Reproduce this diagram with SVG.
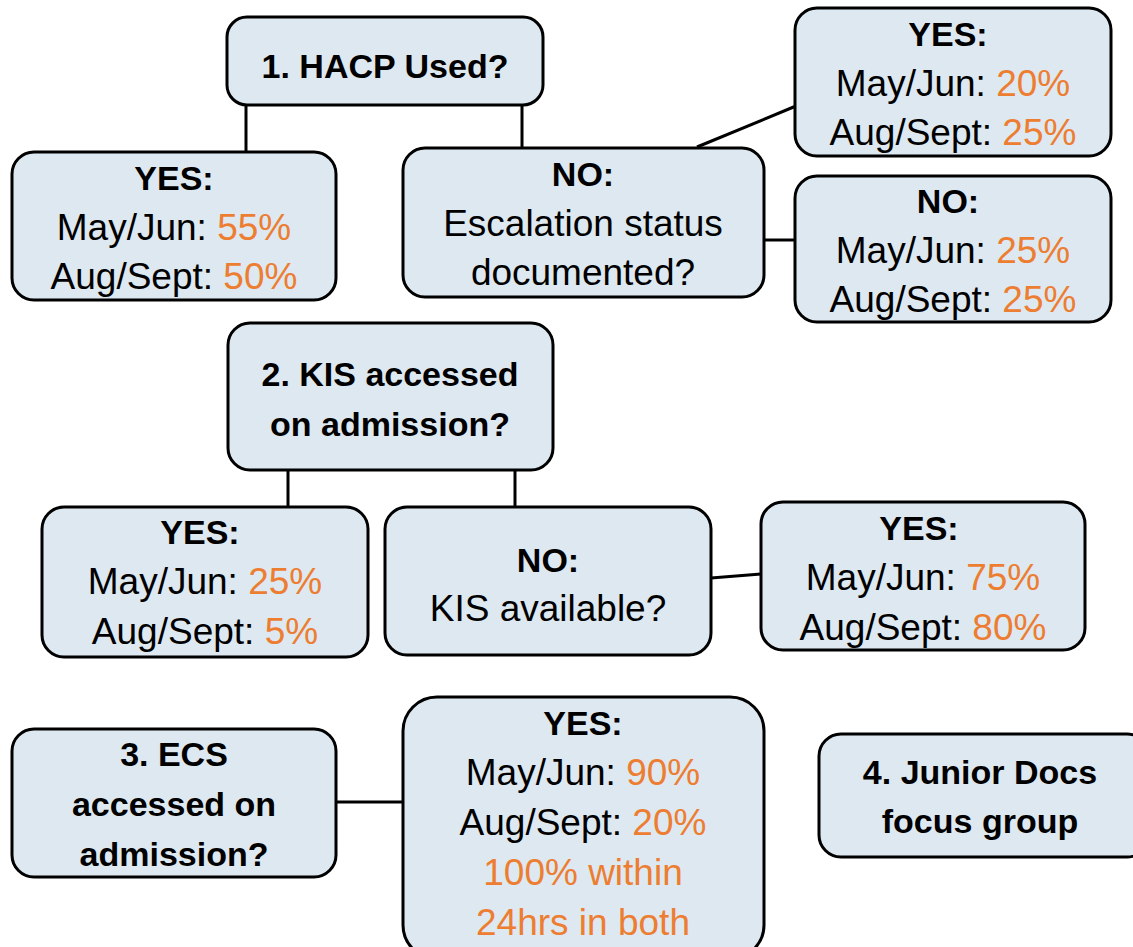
<svg xmlns="http://www.w3.org/2000/svg" width="1133" height="947" viewBox="0 0 1133 947">
<style>
.box{fill:#dde8f0;stroke:#000;stroke-width:3}
.t{font-family:"Liberation Sans",Arial,sans-serif;font-size:37px;fill:#000;text-anchor:middle}
.b{font-weight:bold;font-size:34px}
.o{fill:#ed7d31}
.c{stroke:#000;stroke-width:3;fill:none}
</style>
<rect width="1133" height="947" fill="#fff"/>
<g id="connectors">
<line class="c" x1="246" y1="105" x2="246" y2="152"/>
<line class="c" x1="522" y1="105" x2="522" y2="148"/>
<line class="c" x1="697" y1="147" x2="796" y2="106"/>
<line class="c" x1="764" y1="240" x2="795" y2="240"/>
<line class="c" x1="288" y1="470" x2="288" y2="507"/>
<line class="c" x1="515" y1="470" x2="515" y2="507"/>
<line class="c" x1="711" y1="578" x2="761" y2="574"/>
<line class="c" x1="336" y1="802" x2="403" y2="802"/>
</g>
<g id="n1">
<rect class="box" x="227" y="17" width="316" height="88" rx="20"/>
<text class="t b" x="385" y="78">1. HACP Used?</text>
</g>
<g id="n1yes">
<rect class="box" x="12" y="152" width="324" height="148" rx="22"/>
<text class="t b" x="174" y="190">YES:</text>
<text class="t" x="174" y="240">May/Jun: <tspan class="o">55%</tspan></text>
<text class="t" x="174" y="289">Aug/Sept: <tspan class="o">50%</tspan></text>
</g>
<g id="n1no">
<rect class="box" x="403" y="148" width="361" height="149" rx="22"/>
<text class="t b" x="583" y="186">NO:</text>
<text class="t" x="583" y="236">Escalation status</text>
<text class="t" x="583" y="285">documented?</text>
</g>
<g id="n1noyes">
<rect class="box" x="795" y="8" width="316" height="148" rx="22"/>
<text class="t b" x="948" y="46">YES:</text>
<text class="t" x="953" y="96">May/Jun: <tspan class="o">20%</tspan></text>
<text class="t" x="953" y="145">Aug/Sept: <tspan class="o">25%</tspan></text>
</g>
<g id="n1nono">
<rect class="box" x="795" y="176" width="316" height="146" rx="22"/>
<text class="t b" x="948" y="213">NO:</text>
<text class="t" x="953" y="263">May/Jun: <tspan class="o">25%</tspan></text>
<text class="t" x="953" y="312">Aug/Sept: <tspan class="o">25%</tspan></text>
</g>
<g id="n2">
<rect class="box" x="228" y="323" width="325" height="147" rx="22"/>
<text class="t b" x="390" y="386">2. KIS accessed</text>
<text class="t b" x="390" y="436">on admission?</text>
</g>
<g id="n2yes">
<rect class="box" x="42" y="507" width="326" height="150" rx="22"/>
<text class="t b" x="200" y="544">YES:</text>
<text class="t" x="205" y="594">May/Jun: <tspan class="o">25%</tspan></text>
<text class="t" x="205" y="644">Aug/Sept: <tspan class="o">5%</tspan></text>
</g>
<g id="n2no">
<rect class="box" x="385" y="507" width="326" height="148" rx="22"/>
<text class="t b" x="548" y="572">NO:</text>
<text class="t" x="548" y="621">KIS available?</text>
</g>
<g id="n2noyes">
<rect class="box" x="761" y="502" width="324" height="148" rx="22"/>
<text class="t b" x="919" y="540">YES:</text>
<text class="t" x="923" y="590">May/Jun: <tspan class="o">75%</tspan></text>
<text class="t" x="923" y="640">Aug/Sept: <tspan class="o">80%</tspan></text>
</g>
<g id="n3">
<rect class="box" x="12" y="729" width="324" height="148" rx="22"/>
<text class="t b" x="174" y="766">3. ECS</text>
<text class="t b" x="174" y="816">accessed on</text>
<text class="t b" x="174" y="866">admission?</text>
</g>
<g id="n3yes">
<rect class="box" x="403" y="697" width="361" height="262" rx="34"/>
<text class="t b" x="583" y="735">YES:</text>
<text class="t" x="583" y="785">May/Jun: <tspan class="o">90%</tspan></text>
<text class="t" x="583" y="835">Aug/Sept: <tspan class="o">20%</tspan></text>
<text class="t o" x="583" y="885">100% within</text>
<text class="t o" x="583" y="935">24hrs in both</text>
</g>
<g id="n4">
<rect class="box" x="819" y="734" width="330" height="123" rx="22"/>
<text class="t b" x="980" y="784">4. Junior Docs</text>
<text class="t b" x="980" y="833">focus group</text>
</g>
</svg>
